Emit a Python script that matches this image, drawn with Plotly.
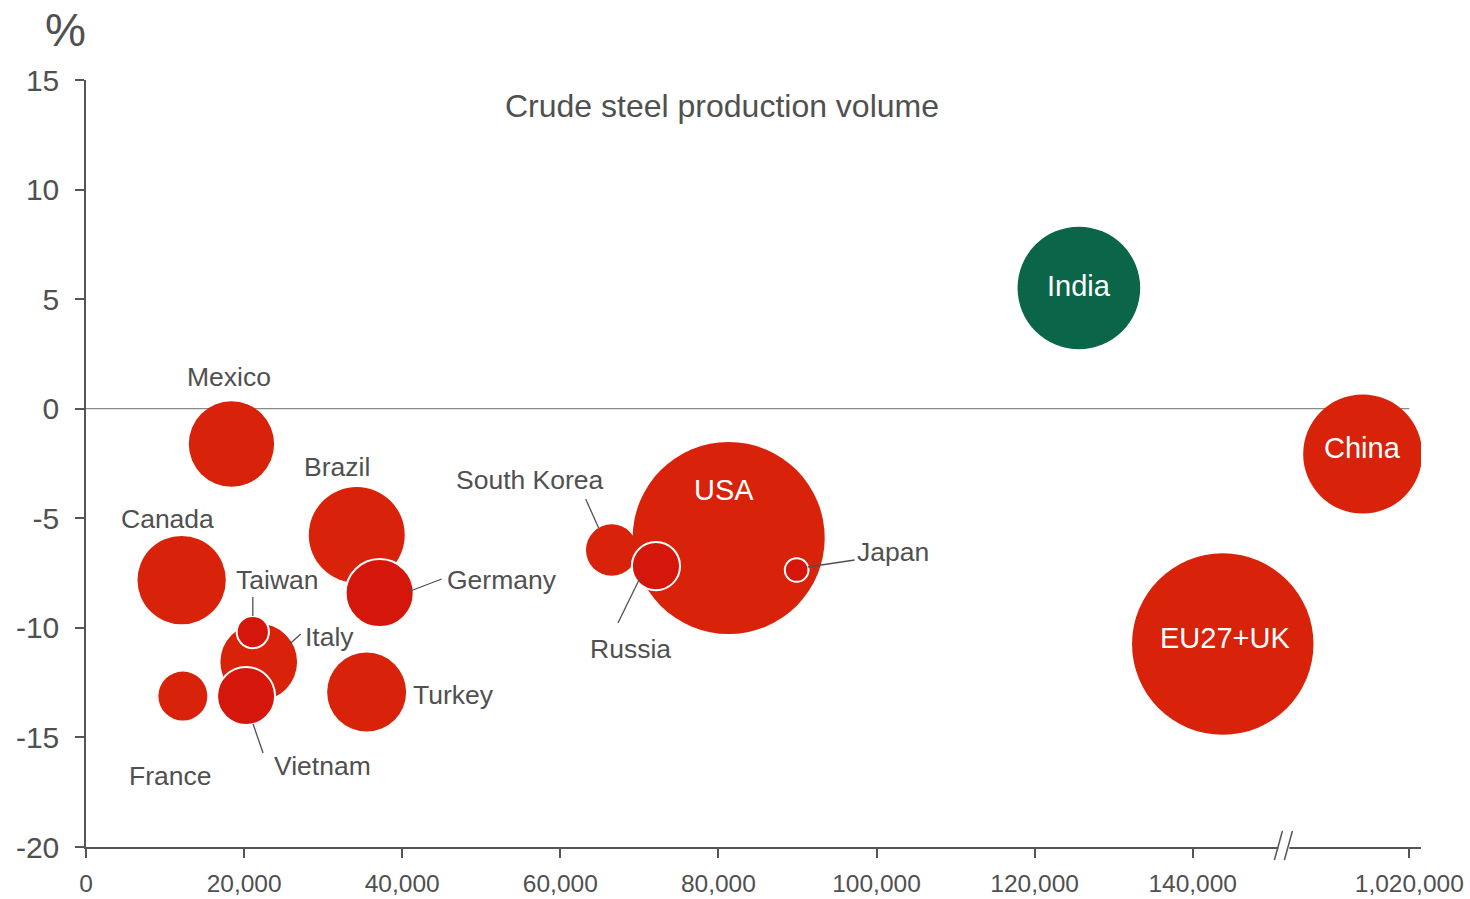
import plotly.graph_objects as go

# --- data -------------------------------------------------------------
countries = ["USA", "EU27+UK", "India", "China", "Brazil", "Canada", "Mexico",
             "Turkey", "Italy", "France", "South Korea", "Germany", "Vietnam",
             "Russia", "Taiwan", "Japan"]
# crude steel production volume (thousand tonnes)
production = [81300, 143800, 125600, 1014100, 34250, 12100, 18400,
              35500, 21850, 12250, 66500, 37150, 20250,
              72100, 21100, 89900]
# year-on-year change (%)
change_pct = [-5.90, -10.74, 5.51, -2.07, -5.76, -7.82, -1.61,
              -12.93, -11.56, -13.11, -6.45, -8.41, -13.11,
              -7.18, -10.19, -7.36]
# bubble magnitude (relative units, proportional to bubble area)
bubble_value = [92.2, 82.3, 37.6, 35.4, 23.0, 19.5, 18.2,
                15.6, 14.7, 6.0, 6.6, 11.6, 8.4,
                5.8, 2.6, 1.4]

x_tick_values = [0, 20000, 40000, 60000, 80000, 100000, 120000, 140000, 1020000]
y_tick_values = [-20, -15, -10, -5, 0, 5, 10, 15]

# --- broken x axis: values beyond the break are shifted left -------------
BREAK_START = 150000
BREAK_GAP = 852600
BREAK_AT = 151600


def to_axis(v):
    return v - BREAK_GAP if v > BREAK_START else v


# --- styles -----------------------------------------------------------
RED = "#D8220A"
RED_DARK = "#D4170A"
GREEN = "#0B6649"
TEXT = "#505050"
AXIS = "#555555"
FONT = "Liberation Sans, Arial, sans-serif"

outlined = {"Germany", "Vietnam", "Russia", "Taiwan", "Japan"}
inside_label = {"USA", "EU27+UK", "India", "China"}

# label offsets from bubble centre (px, right / up)
label_offset = {
    "Mexico": (-2, 67), "Brazil": (-20, 68), "Canada": (-14, 61),
    "Taiwan": (25, 52), "Italy": (71, 25), "France": (-13, -80),
    "Vietnam": (76, -70), "Turkey": (87, -3), "Germany": (122, 13),
    "South Korea": (-82, 70), "Russia": (-25, -83), "Japan": (96, 18),
    "USA": (-5, 48), "India": (0, 2), "China": (0, 6), "EU27+UK": (2, 6),
}
# leader lines relative to bubble centre (px, right / up)
leader = {
    "Taiwan": (0, 16, 0, 35),
    "Italy": (31, 18, 42, 28),
    "Germany": (28, 1, 62, 14),
    "Vietnam": (7, -28, 17, -57),
    "South Korea": (-13, 22, -26, 51),
    "Russia": (-16, -12, -38, -57),
    "Japan": (11, 3, 58, 10),
}

xs = [to_axis(v) for v in production]
colors = []
line_colors = []
line_widths = []
for c, y in zip(countries, change_pct):
    if y > 0:
        colors.append(GREEN)
    elif c in outlined:
        colors.append(RED_DARK)
    else:
        colors.append(RED)
    line_colors.append("white")
    line_widths.append(2 if c in outlined else 0)

fig = go.Figure()
fig.add_trace(go.Scatter(
    x=xs, y=change_pct, mode="markers", text=countries,
    marker=dict(size=bubble_value, sizemode="area", sizeref=0.005,
                color=colors, opacity=1,
                line=dict(color=line_colors, width=line_widths)),
    hovertemplate="%{text}<extra></extra>",
))

annotations = []
for c, x, y in zip(countries, xs, change_pct):
    dx, dy = label_offset[c]
    inside = c in inside_label
    annotations.append(dict(
        x=x, y=y, xref="x", yref="y", text=c, showarrow=False,
        xanchor="center", yanchor="middle",
        xshift=dx, yshift=dy,
        font=dict(family=FONT, size=29 if inside else 26.5,
                  color="white" if inside else TEXT),
    ))

annotations.append(dict(
    x=0.4764, y=0.9661, xref="paper", yref="paper",
    xanchor="center", yanchor="middle",
    text="Crude steel production volume", showarrow=False,
    font=dict(family=FONT, size=32, color=TEXT),
))
annotations.append(dict(
    x=-0.0157, y=1.0652, xref="paper", yref="paper", text="%",
    xanchor="center", yanchor="middle",
    showarrow=False, font=dict(family=FONT, size=46, color=TEXT),
))

shapes = [dict(
    type="line", xref="x", yref="y", x0=0, x1=to_axis(x_tick_values[-1]),
    y0=0, y1=0, line=dict(color="#8A8A8A", width=1.2), layer="below",
)]
for c, x, y in zip(countries, xs, change_pct):
    if c in leader:
        x0, y0, x1, y1 = leader[c]
        shapes.append(dict(
            type="line", xref="x", yref="y",
            xsizemode="pixel", xanchor=x, ysizemode="pixel", yanchor=y,
            x0=x0, y0=y0, x1=x1, y1=y1,
            line=dict(color=TEXT, width=1.3), layer="above",
        ))

# axis break marks "//"
shapes.append(dict(
    type="rect", xref="x", yref="paper",
    xsizemode="pixel", xanchor=BREAK_AT, ysizemode="pixel", yanchor=0,
    x0=-6, x1=5, y0=-3, y1=3, line=dict(width=0), fillcolor="white",
    layer="above",
))
for off in (-6, 4):
    shapes.append(dict(
        type="line", xref="x", yref="paper",
        xsizemode="pixel", xanchor=BREAK_AT, ysizemode="pixel", yanchor=0,
        x0=off - 4, y0=-13, x1=off + 4, y1=16,
        line=dict(color=AXIS, width=1.5), layer="above",
    ))

fig.update_layout(
    width=1470, height=899,
    margin=dict(l=86, r=49, t=80, b=52, pad=0),
    paper_bgcolor="white", plot_bgcolor="white",
    showlegend=False,
    font=dict(family=FONT, color=TEXT),
    annotations=annotations, shapes=shapes,
    xaxis=dict(
        range=[0, 168880], showgrid=False, zeroline=False, automargin=False,
        showline=True, linecolor=AXIS, linewidth=1.5,
        ticks="outside", ticklen=9, tickwidth=1.5, tickcolor=AXIS,
        ticklabelstandoff=5,
        tickvals=[to_axis(v) for v in x_tick_values],
        ticktext=[f"{v:,}" for v in x_tick_values],
        tickfont=dict(family=FONT, size=24.5, color=TEXT),
    ),
    yaxis=dict(
        range=[-20, 15], showgrid=False, zeroline=False, automargin=False,
        showline=True, linecolor=AXIS, linewidth=1.5,
        ticks="outside", ticklen=9, tickwidth=1.5, tickcolor=AXIS,
        ticklabelstandoff=10,
        tickvals=y_tick_values, ticktext=[str(v) for v in y_tick_values],
        tickfont=dict(family=FONT, size=30, color=TEXT),
    ),
)

fig.write_html("out.html")
